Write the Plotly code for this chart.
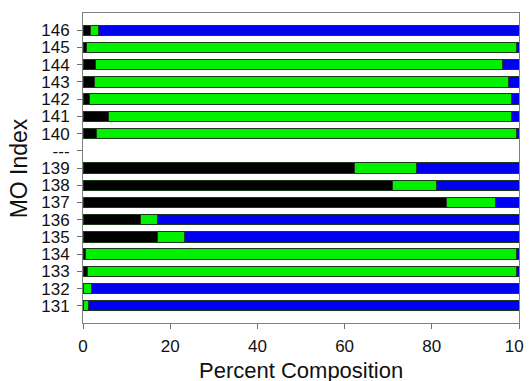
import plotly.graph_objects as go

categories = ["131", "132", "133", "134", "135", "136", "137", "138", "139", "---",
              "140", "141", "142", "143", "144", "145", "146"]
black_vals = [0.0, 0.2, 1.0, 0.5, 17.1, 13.1, 83.4, 70.9, 62.2, None,
              3.0, 5.8, 1.4, 2.7, 2.8, 0.7, 1.7]
green_vals = [1.2, 1.8, 98.5, 99.0, 6.1, 4.1, 11.3, 10.1, 14.2, None,
              96.5, 92.4, 96.8, 94.8, 93.5, 98.8, 1.9]
blue_vals = [98.8, 98.0, 0.5, 0.5, 76.8, 82.8, 5.3, 19.0, 23.6, None,
             0.5, 1.8, 1.8, 2.5, 3.7, 0.5, 96.4]
x_ticks = [0, 20, 40, 60, 80, 100]

fig = go.Figure()
for vals, col in [(black_vals, "#000000"), (green_vals, "#00f000"), (blue_vals, "#0000f0")]:
    fig.add_trace(go.Bar(
        y=categories, x=vals, orientation="h", width=0.6,
        marker=dict(color=col, line=dict(color="#1a3a1a", width=1)),
        showlegend=False,
    ))

# page body has an 8px default margin, so the figure is sized to fit the 532x381 window
fig.update_layout(
    barmode="stack",
    width=524, height=373,
    margin=dict(l=75, r=13, t=5, b=58, autoexpand=False),
    paper_bgcolor="white", plot_bgcolor="white",
    font=dict(family="Liberation Sans, Arial, sans-serif", color="#111111", size=17),
    annotations=[
        dict(text="MO Index", xref="paper", yref="paper", x=-0.146, y=0.5,
             xanchor="center", yanchor="middle", textangle=-90, showarrow=False,
             font=dict(size=23)),
        dict(text="Percent Composition", xref="paper", yref="paper", x=0.5, y=-0.153,
             xanchor="center", yanchor="middle", showarrow=False,
             font=dict(size=22)),
    ],
)
fig.update_xaxes(
    range=[0, 100], tickvals=x_ticks, ticks="outside", ticklen=5, tickcolor="#707070",
    showline=True, linecolor="#808080", linewidth=1, mirror=True, showgrid=False,
    zeroline=False, tickfont=dict(size=17), automargin=False,
    ticklabeloverflow="allow", ticklabelstandoff=3,
)
fig.update_yaxes(
    type="category", categoryorder="array", categoryarray=categories,
    tickmode="array", tickvals=categories, ticktext=categories,
    range=[-1, 17], ticks="outside", ticklen=5, tickcolor="#707070",
    showline=True, linecolor="#808080", linewidth=1, mirror=True, showgrid=False,
    tickfont=dict(size=17), automargin=False, ticklabelstandoff=4,
)
fig.write_html("out.html")
